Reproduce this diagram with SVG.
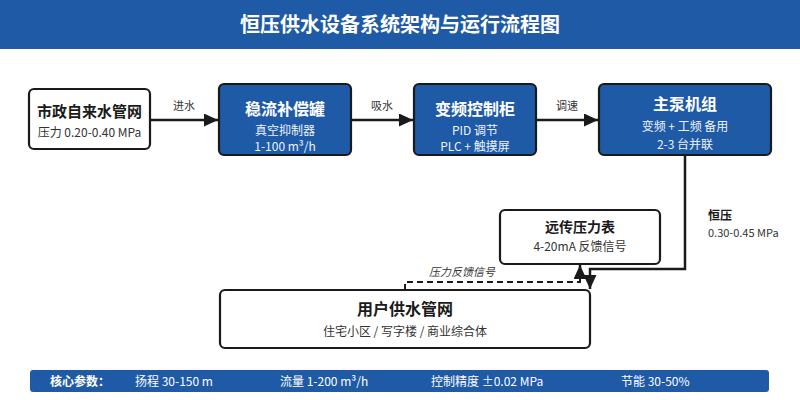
<svg xmlns="http://www.w3.org/2000/svg" width="800" height="400" viewBox="0 0 800 400">
<defs>
<style>
text{font-family:"Noto Sans CJK SC","Noto Sans",sans-serif;}
.box-w{fill:#ffffff;stroke:#1a1a1a;stroke-width:2.2;}
.box-b{fill:#1f5aa6;stroke:#1a1a1a;stroke-width:2.2;}
.t-dark{font-weight:700;fill:#1a1a1a;text-anchor:middle;}
.t-white{font-weight:700;fill:#ffffff;text-anchor:middle;font-size:16px;}
.s-dark{font-size:12px;fill:#333333;text-anchor:middle;}
.s-white{font-size:12px;fill:#eef3fb;text-anchor:middle;}
.lbl{font-size:11px;fill:#333333;text-anchor:middle;}
.conn{fill:none;stroke:#1a1a1a;stroke-width:2.5;}
.dash{fill:none;stroke:#1a1a1a;stroke-width:2;stroke-dasharray:6,4;}
.bar{font-size:12px;fill:#ffffff;}
</style>
<marker id="arr" markerUnits="userSpaceOnUse" markerWidth="15" markerHeight="13" refX="14" refY="6.5" orient="auto">
<path d="M0,0 L14,6.5 L0,13 z" fill="#1a1a1a"/>
</marker>
</defs>
<rect x="0" y="0" width="800" height="49" fill="#1f5aa6"/>
<text x="400" y="32" text-anchor="middle" font-size="20" font-weight="700" fill="#ffffff" style="font-family:'Noto Sans CJK SC',sans-serif">恒压供水设备系统架构与运行流程图</text>

<g id="connectors">
<line class="conn" x1="150" y1="120" x2="218" y2="120" marker-end="url(#arr)"/>
<line class="conn" x1="351" y1="120" x2="413" y2="120" marker-end="url(#arr)"/>
<line class="conn" x1="536" y1="120" x2="598" y2="120" marker-end="url(#arr)"/>
<path class="conn" d="M685,155 V269 H590 V289" marker-end="url(#arr)"/>
<path class="dash" d="M405,290 V282 H580 V272"/>
<line class="conn" x1="580" y1="276" x2="580" y2="265" marker-end="url(#arr)"/>
<text class="lbl" x="184" y="110">进水</text>
<text class="lbl" x="382" y="110">吸水</text>
<text class="lbl" x="567" y="110">调速</text>
<text x="708" y="220" font-size="12" font-weight="700" fill="#1a1a1a">恒压</text>
<text x="708" y="237" font-size="11" fill="#333333">0.30-0.45 MPa</text>
<text x="462" y="276" font-size="11" font-style="italic" fill="#333333" text-anchor="middle">压力反馈信号</text>
</g>

<g id="node-municipal">
<rect class="box-w" x="29" y="89" width="121" height="60" rx="5"/>
<text class="t-dark" x="89.5" y="117" font-size="15">市政自来水管网</text>
<text class="s-dark" x="89.5" y="137">压力 0.20-0.40 MPa</text>
</g>

<g id="node-tank">
<rect class="box-b" x="219" y="84" width="132" height="71" rx="5"/>
<text class="t-white" x="285" y="115">稳流补偿罐</text>
<text class="s-white" x="285" y="135">真空抑制器</text>
<text class="s-white" x="285" y="151">1-100 m³/h</text>
</g>

<g id="node-vfd">
<rect class="box-b" x="414" y="84" width="122" height="71" rx="5"/>
<text class="t-white" x="475" y="115">变频控制柜</text>
<text class="s-white" x="475" y="135">PID 调节</text>
<text class="s-white" x="475" y="151">PLC + 触摸屏</text>
</g>

<g id="node-pump">
<rect class="box-b" x="599" y="84" width="172" height="71" rx="5"/>
<text class="t-white" x="685" y="110">主泵机组</text>
<text class="s-white" x="685" y="131">变频 + 工频 备用</text>
<text class="s-white" x="685" y="149">2-3 台并联</text>
</g>

<g id="node-gauge">
<rect class="box-w" x="500" y="210" width="160" height="54" rx="5"/>
<text class="t-dark" x="580" y="232" font-size="14">远传压力表</text>
<text class="s-dark" x="580" y="251">4-20mA 反馈信号</text>
</g>

<g id="node-user">
<rect class="box-w" x="220" y="290" width="370" height="58" rx="5"/>
<text class="t-dark" x="405" y="315" font-size="16">用户供水管网</text>
<text class="s-dark" x="405" y="336">住宅小区 / 写字楼 / 商业综合体</text>
</g>

<g id="params">
<rect x="30" y="370" width="739" height="22" rx="3" fill="#1f5aa6"/>
<text class="bar" x="50" y="386" font-weight="700">核心参数：</text>
<text class="bar" x="135" y="386">扬程 30-150 m</text>
<text class="bar" x="280" y="386">流量 1-200 m³/h</text>
<text class="bar" x="431" y="386">控制精度 ±0.02 MPa</text>
<text class="bar" x="621" y="386">节能 30-50%</text>
</g>
</svg>
